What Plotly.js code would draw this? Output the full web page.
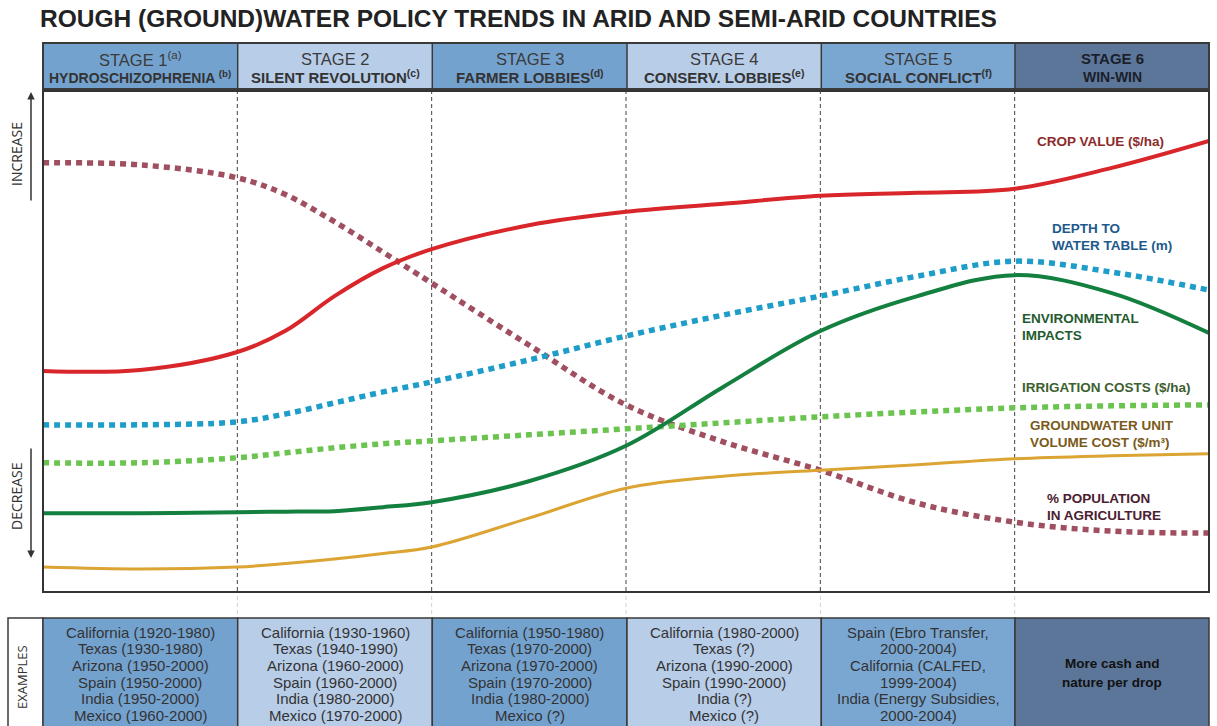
<!DOCTYPE html>
<html>
<head>
<meta charset="utf-8">
<script src="https://cdn.plot.ly/plotly-3.0.1.min.js"></script>
<style>html,body{margin:0;padding:0;background:#fff;}#chart{width:1217px;height:726px;}</style>
</head>
<body>
<div id="chart"></div>
<script>
// ---- Data (stage position 0..6, relative level 0..100) ----
const stageX      = [0, 0.5, 1, 1.25, 1.5, 1.75, 2, 2.5, 3, 3.5, 4, 4.5, 5, 5.5, 6];
const cropValue   = [43.9, 44.1, 47.7, 52.0, 58.9, 64.5, 68.3, 73.1, 75.8, 77.4, 79.0, 79.6, 80.4, 84.6, 90.0];
const popAgri     = [85.6, 85.2, 82.6, 79.2, 73.8, 67.7, 61.5, 49.1, 37.1, 29.7, 24.0, 17.4, 13.6, 11.8, 11.4];
const depthWT     = [33.1, 33.1, 33.7, 35.3, 37.5, 39.7, 41.7, 46.1, 50.9, 55.1, 58.9, 62.9, 65.9, 63.7, 60.1];
const envImpact   = [15.4, 15.4, 15.6, 15.7, 15.8, 16.6, 17.6, 21.8, 28.9, 40.7, 51.9, 58.9, 63.1, 59.5, 51.5];
const irrigCost   = [25.5, 25.5, 26.5, 27.5, 28.5, 29.3, 29.9, 31.1, 32.3, 33.5, 34.7, 35.7, 36.5, 36.9, 37.1];
const gwCost      = [4.6, 4.2, 4.6, 5.3, 6.2, 7.3, 8.6, 14.4, 20.4, 22.8, 24.0, 25.1, 26.3, 26.9, 27.3];

const stageTitles = ["STAGE 1<sup>(a)</sup>", "STAGE 2", "STAGE 3", "STAGE 4", "STAGE 5", "STAGE 6"];
const stageNames  = ["HYDROSCHIZOPHRENIA <sup>(b)</sup>", "SILENT REVOLUTION<sup>(c)</sup>", "FARMER LOBBIES<sup>(d)</sup>",
                     "CONSERV. LOBBIES<sup>(e)</sup>", "SOCIAL CONFLICT<sup>(f)</sup>", "WIN-WIN"];
const examples = [
  ["California (1920-1980)", "Texas (1930-1980)", "Arizona (1950-2000)", "Spain (1950-2000)", "India (1950-2000)", "Mexico (1960-2000)"],
  ["California (1930-1960)", "Texas (1940-1990)", "Arizona (1960-2000)", "Spain (1960-2000)", "India (1980-2000)", "Mexico (1970-2000)"],
  ["California (1950-1980)", "Texas (1970-2000)", "Arizona (1970-2000)", "Spain (1970-2000)", "India (1980-2000)", "Mexico (?)"],
  ["California (1980-2000)", "Texas (?)", "Arizona (1990-2000)", "Spain (1990-2000)", "India (?)", "Mexico (?)"],
  ["Spain (Ebro Transfer,", "2000-2004)", "California (CALFED,", "1999-2004)", "India (Energy Subsidies,", "2000-2004)"],
  ["More cash and", "nature per drop"]
];
const curveLabels = [
  ["CROP VALUE ($/ha)"],
  ["DEPTH TO", "WATER TABLE (m)"],
  ["ENVIRONMENTAL", "IMPACTS"],
  ["IRRIGATION COSTS ($/ha)"],
  ["GROUNDWATER UNIT", "VOLUME COST ($/m³)"],
  ["% POPULATION", "IN AGRICULTURE"]
];

// ---- Layout helpers (pixel -> paper) ----
const W = 1217, H = 726;
const X = px => px / W;
const Y = py => 1 - py / H;
const bounds = [43, 237.7, 432.3, 627, 821.3, 1015, 1209];
const fills = ["#74a2cf", "#b8cde8", "#74a2cf", "#b8cde8", "#7aa7d2", "#5c7699"];
const FONT = "Liberation Sans, Arial, sans-serif";
const HUM = "Open Sans, Liberation Sans, sans-serif";

const mk = (y, name, color, width, dash) => ({
  x: stageX, y: y, name: name, type: "scatter", mode: "lines",
  line: {color: color, width: width, dash: dash, shape: "spline", smoothing: 1},
  hoverinfo: "skip", showlegend: false
});
const traces = [
  mk(popAgri, "% Population in agriculture", "#a04f60", 5.5, "6px,5px"),
  mk(depthWT, "Depth to water table", "#1e9dc9", 5.5, "6px,5px"),
  mk(irrigCost, "Irrigation costs", "#6cc450", 5.5, "6px,5px"),
  mk(gwCost, "Groundwater unit volume cost", "#dba433", 3, "solid"),
  mk(envImpact, "Environmental impacts", "#14803f", 4, "solid"),
  mk(cropValue, "Crop value", "#d8262b", 4, "solid")
];

const shapes = [];
const annotations = [];
const txt = (px, py, text, font, opts) => annotations.push(Object.assign({xref: "paper", yref: "paper",
  x: X(px), y: Y(py), xanchor: "center", yanchor: "middle", showarrow: false, text: text, font: font}, opts || {}));

// header cells
for (let i = 0; i < 6; i++) {
  shapes.push({type: "rect", xref: "paper", yref: "paper", x0: X(bounds[i]), x1: X(bounds[i+1]), y0: Y(89), y1: Y(43),
    fillcolor: fills[i], line: {width: 0}, layer: "below"});
  const cx = (bounds[i] + bounds[i+1]) / 2;
  if (i === 5) {
    txt(cx, 59, "<b>" + stageTitles[i] + "</b>", {family: FONT, size: 15, color: "#1a1f2a"});
    txt(cx, 76.5, "<b>" + stageNames[i] + "</b>", {family: FONT, size: 14, color: "#1a1f2a"});
  } else {
    txt(cx, 59, stageTitles[i], {family: FONT, size: 16.5, color: "#3a3a3a"});
    txt(cx, 76.5, "<b>" + stageNames[i] + "</b>", {family: FONT, size: i === 0 ? 14 : 15, color: "#333"});
  }
}
shapes.push({type: "rect", xref: "paper", yref: "paper", x0: X(43), x1: X(1209), y0: Y(89), y1: Y(43),
  line: {color: "#3a3a3a", width: 2}});
for (let i = 1; i < 6; i++) {
  shapes.push({type: "line", xref: "paper", yref: "paper", x0: X(bounds[i]), x1: X(bounds[i]), y0: Y(89), y1: Y(43),
    line: {color: "#3a3a3a", width: 1.5}});
}

// plot border
shapes.push({type: "rect", xref: "paper", yref: "paper", x0: X(43), x1: X(1209), y0: Y(592), y1: Y(91),
  line: {color: "#333", width: 2}});

// dashed stage separators
for (let s = 1; s <= 5; s++) {
  shapes.push({type: "line", xref: "x", yref: "paper", x0: s, x1: s, y0: Y(591), y1: Y(92),
    line: {color: "#444", width: 1, dash: "4px,3px"}, layer: "below"});
  shapes.push({type: "line", xref: "x", yref: "paper", x0: s, x1: s, y0: Y(614), y1: Y(594),
    line: {color: "#d0d0d0", width: 1, dash: "4px,3px"}, layer: "below"});
}

// examples table
shapes.push({type: "rect", xref: "paper", yref: "paper", x0: X(8), x1: X(43), y0: Y(730), y1: Y(618),
  fillcolor: "#ffffff", line: {color: "#3a3a3a", width: 1.5}});
for (let i = 0; i < 6; i++) {
  shapes.push({type: "rect", xref: "paper", yref: "paper", x0: X(bounds[i]), x1: X(bounds[i+1]), y0: Y(730), y1: Y(618),
    fillcolor: fills[i], line: {color: "#3a3a3a", width: 1.5}});
  const cx = (bounds[i] + bounds[i+1]) / 2;
  if (i === 5) {
    examples[i].forEach((t, k) => txt(cx, 663 + k * 19, "<b>" + t + "</b>", {family: FONT, size: 13.5, color: "#111"}));
  } else {
    examples[i].forEach((t, k) => txt(cx, 632 + k * 16.7, t, {family: FONT, size: 15, color: "#333"}));
  }
}
txt(22, 677, "EXAMPLES", {family: HUM, size: 13, color: "#333"}, {textangle: -90});

// increase / decrease arrows
annotations.push({xref: "paper", yref: "paper", x: X(31), y: Y(92), ax: 0, ay: 110, text: "", showarrow: true,
  arrowhead: 2, arrowsize: 1, arrowwidth: 1.5, arrowcolor: "#333"});
annotations.push({xref: "paper", yref: "paper", x: X(31), y: Y(558), ax: 0, ay: -111, text: "", showarrow: true,
  arrowhead: 2, arrowsize: 1, arrowwidth: 1.5, arrowcolor: "#333"});
txt(16, 154, "INCREASE", {family: HUM, size: 14, color: "#333"}, {textangle: -90});
txt(16, 497, "DECREASE", {family: HUM, size: 14, color: "#333"}, {textangle: -90});

// curve labels
const labPos = [[1035, 141], [1050, 228], [1020, 318], [1020, 388], [1028, 425], [1045, 498]];
const labCol = ["#8c2a2a", "#1d5a8c", "#1f5a2e", "#3d6030", "#7a5a1a", "#4a2030"];
curveLabels.forEach((lines, i) => lines.forEach((t, k) =>
  txt(labPos[i][0], labPos[i][1] + k * 17.5, "<b>" + t + "</b>", {family: FONT, size: 13.5, color: labCol[i]},
      {xanchor: "left"})));

const layout = {
  width: W, height: H,
  margin: {l: 0, r: 0, t: 0, b: 0},
  paper_bgcolor: "#ffffff", plot_bgcolor: "rgba(0,0,0,0)",
  title: {text: "<b>ROUGH (GROUND)WATER POLICY TRENDS IN ARID AND SEMI-ARID COUNTRIES</b>",
    x: X(40), xanchor: "left", y: Y(18), yanchor: "middle", xref: "paper", yref: "paper",
    font: {family: FONT, size: 24.5, color: "#222"}},
  xaxis: {domain: [X(43), X(1209)], range: [0, 6], visible: false, fixedrange: true},
  yaxis: {domain: [Y(590), Y(91)], range: [0, 100], visible: false, fixedrange: true},
  shapes: shapes, annotations: annotations, showlegend: false
};
Plotly.newPlot("chart", traces, layout, {displayModeBar: false, staticPlot: true});
</script>
</body>
</html>
